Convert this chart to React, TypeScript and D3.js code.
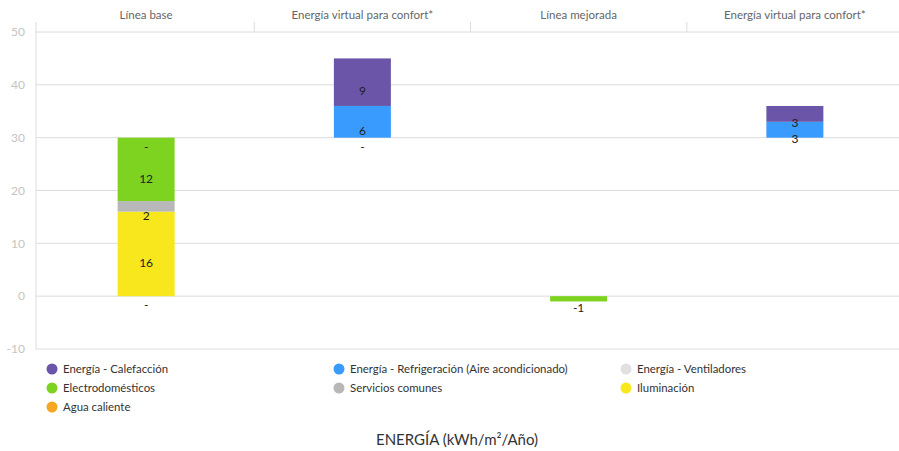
import React from "react";
import * as d3 from "d3";

const categories = ["Línea base", "Energía virtual para confort*", "Línea mejorada", "Energía virtual para confort* "];
const categoryBase = [0, 30, 0, 30];

const seriesNames = [
  "Agua caliente",
  "Iluminación",
  "Servicios comunes",
  "Electrodomésticos",
  "Energía - Ventiladores",
  "Energía - Refrigeración (Aire acondicionado)",
  "Energía - Calefacción",
];
const seriesColors = ["#f5a623", "#f8e71c", "#b8b8b8", "#7ed321", "#e0e0e0", "#3a9bff", "#6a55a8"];
// values per category (null = absent, 0 = shown as "-")
const aguaCaliente = [0, null, null, null];
const iluminacion = [16, null, null, null];
const serviciosComunes = [2, null, null, null];
const electrodomesticos = [12, null, -1, null];
const ventiladores = [0, 0, null, null];
const refrigeracion = [null, 6, null, 3];
const calefaccion = [null, 9, null, 3];
const seriesValues = [aguaCaliente, iluminacion, serviciosComunes, electrodomesticos, ventiladores, refrigeracion, calefaccion];

const yTicks = [-10, 0, 10, 20, 30, 40, 50];

const legendOrder = [
  "Energía - Calefacción",
  "Energía - Refrigeración (Aire acondicionado)",
  "Energía - Ventiladores",
  "Electrodomésticos",
  "Servicios comunes",
  "Iluminación",
  "Agua caliente",
];

const W = 899;
const H = 451;
const FONT = "Lato, 'Open Sans', sans-serif";

export default function App() {
  const x = d3.scaleBand<string>().domain(categories).range([38, 903]).paddingInner(0).paddingOuter(0);
  const y = d3.scaleLinear().domain([-10, 50]).range([349, 32]);
  const barW = 57;
  const left = 36;

  const segments: { x: number; y0: number; y1: number; v: number; color: string }[] = [];
  categories.forEach((c, ci) => {
    let pos = categoryBase[ci];
    let neg = categoryBase[ci];
    seriesValues.forEach((vals, si) => {
      const v = vals[ci];
      if (v === null || v === undefined) return;
      let a: number, b: number;
      if (v >= 0) {
        a = pos;
        b = pos + v;
        pos = b;
      } else {
        a = neg;
        b = neg + v;
        neg = b;
      }
      segments.push({ x: (x(c) as number) + x.bandwidth() / 2, y0: a, y1: b, v, color: seriesColors[si] });
    });
  });

  const boundaries = categories.slice(1).map((c) => x(c) as number);

  return (
    <svg width={W} height={H} style={{ position: "absolute", left: 0, top: 0, fontFamily: FONT }}>
      <rect x={0} y={0} width={W} height={H} fill="#fff" />
      {yTicks.map((t) => (
        <g key={t}>
          <line x1={left} x2={W} y1={y(t)} y2={y(t)} stroke="#dcdcdc" strokeWidth={1} />
          <text x={25} y={y(t)} dy="0.35em" textAnchor="end" fontSize={12} fill="#c4c4c4">
            {t}
          </text>
        </g>
      ))}
      <line x1={left} x2={left} y1={22} y2={349} stroke="#dcdcdc" />
      {boundaries.map((b, i) => (
        <line key={i} x1={b} x2={b} y1={22} y2={32} stroke="#dcdcdc" />
      ))}
      {categories.map((c) => (
        <text key={c} x={(x(c) as number) + x.bandwidth() / 2} y={15} dy="0.35em" textAnchor="middle" fontSize={11.5} fill="#666">
          {c.trim()}
        </text>
      ))}
      {segments.map((s, i) => {
        const top = Math.min(y(s.y0), y(s.y1));
        const h = Math.abs(y(s.y0) - y(s.y1));
        const cy = (y(s.y0) + y(s.y1)) / 2;
        return (
          <g key={i}>
            {h > 0 && <rect x={s.x - barW / 2} y={top} width={barW} height={h} fill={s.color} />}
            <text x={s.x} y={cy + 9} dy="0.35em" textAnchor="middle" fontSize={12} fill="#222">
              {s.v === 0 ? "-" : s.v}
            </text>
          </g>
        );
      })}
      {legendOrder.map((name, i) => {
        const col = i % 3;
        const row = Math.floor(i / 3);
        const cx = [52, 339, 626][col];
        const cy = 369 + row * 19;
        const color = seriesColors[seriesNames.indexOf(name)];
        return (
          <g key={name}>
            <circle cx={cx} cy={cy} r={5.5} fill={color} />
            <text x={cx + 11} y={cy} dy="0.35em" fontSize={11.4} fill="#333">
              {name}
            </text>
          </g>
        );
      })}
      <text x={457} y={440} dy="0.35em" textAnchor="middle" fontSize={15} fill="#333">
        ENERGÍA (kWh/m²/Año)
      </text>
    </svg>
  );
}
